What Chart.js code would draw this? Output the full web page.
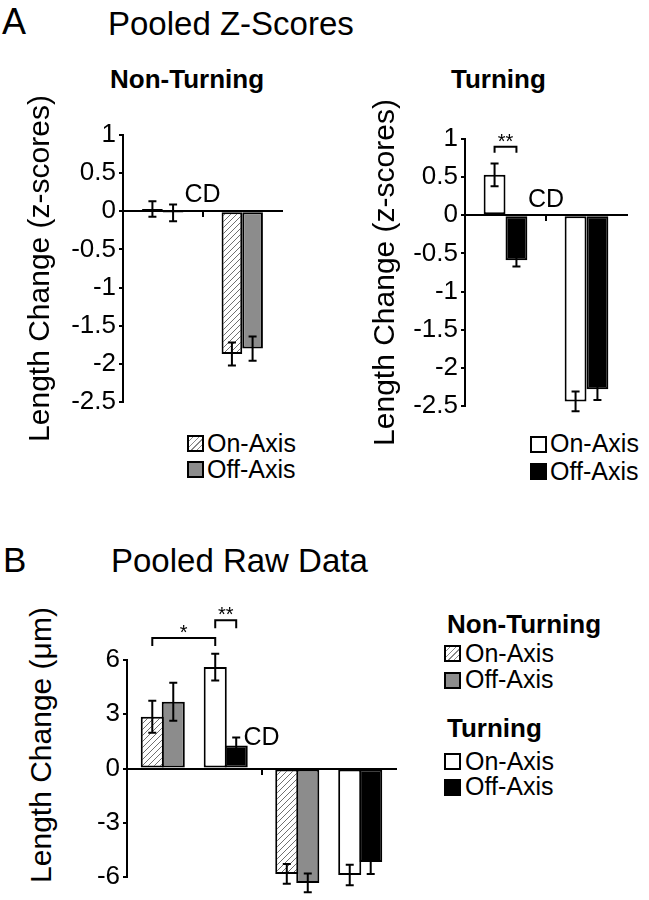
<!DOCTYPE html>
<html>
<head>
<meta charset="utf-8">
<script src="https://cdn.jsdelivr.net/npm/chart.js@4.4.1/dist/chart.umd.min.js"></script>
<style>
  body { margin: 0; width: 649px; height: 900px; position: relative; overflow: hidden; background: #fff;
         font-family: "Liberation Sans", Arial, Helvetica, sans-serif; color: #000; }
  .t { position: absolute; line-height: 1; white-space: nowrap; }
  .b { font-weight: bold; }
  .sw { position: absolute; width: 13px; height: 13px; border: 2px solid #000; }
  .hatch { background: repeating-linear-gradient(-45deg, #fff 0 3px, #888 3px 4px); }
  .grey { background: #8c8c8c; }
  .white { background: #fff; }
  .black { background: #000; }
  canvas { position: absolute; }
</style>
</head>
<body>
<!-- panel A headings -->
<div class="t" style="left:2px;top:4px;font-size:36px">A</div>
<div class="t" style="left:108px;top:7px;font-size:33px">Pooled Z-Scores</div>
<div class="t b" style="left:110px;top:66px;font-size:26px">Non-Turning</div>
<div class="t b" style="left:451px;top:66px;font-size:26px">Turning</div>

<!-- panel A legends -->
<div class="sw hatch" style="left:187px;top:435px"></div>
<div class="t" style="left:207px;top:431px;font-size:25px">On-Axis</div>
<div class="sw grey" style="left:187px;top:461px"></div>
<div class="t" style="left:207px;top:457px;font-size:25px">Off-Axis</div>

<div class="sw white" style="left:530px;top:436px"></div>
<div class="t" style="left:550px;top:431px;font-size:25px">On-Axis</div>
<div class="sw black" style="left:530px;top:463px"></div>
<div class="t" style="left:550px;top:459px;font-size:25px">Off-Axis</div>

<!-- panel B headings -->
<div class="t" style="left:3px;top:542px;font-size:35px">B</div>
<div class="t" style="left:111px;top:544px;font-size:33px">Pooled Raw Data</div>
<div class="t" style="left:41px;top:745px;font-size:30px;transform:translate(-50%,-50%) rotate(-90deg)">Length Change (μm)</div>

<!-- panel B legend -->
<div class="t b" style="left:447px;top:611px;font-size:26px">Non-Turning</div>
<div class="sw hatch" style="left:444px;top:645px"></div>
<div class="t" style="left:465px;top:641px;font-size:25px">On-Axis</div>
<div class="sw grey" style="left:444px;top:672px"></div>
<div class="t" style="left:465px;top:667px;font-size:25px">Off-Axis</div>
<div class="t b" style="left:447px;top:715px;font-size:26px">Turning</div>
<div class="sw white" style="left:444px;top:753px"></div>
<div class="t" style="left:465px;top:749px;font-size:25px">On-Axis</div>
<div class="sw black" style="left:444px;top:779px"></div>
<div class="t" style="left:465px;top:774px;font-size:25px">Off-Axis</div>

<canvas id="zNonTurning" width="320" height="375" style="left:0;top:85px"></canvas>
<canvas id="zTurning" width="319" height="375" style="left:330px;top:85px"></canvas>
<canvas id="rawData" width="420" height="310" style="left:0;top:590px"></canvas>

<script>
// before / after the CD mark on the x axis
const periods = ['Pre-CD', 'Post-CD'];

// Panel A: pooled z-scores
const zTicks = [1, 0.5, 0, -0.5, -1, -1.5, -2, -2.5];
const ntOnZ = [0.03, -1.87];
const ntOnZErr = [0.10, 0.15];
const ntOffZ = [-0.02, -1.80];
const ntOffZErr = [0.11, 0.16];
const tOnZ = [0.53, -2.44];
const tOnZErr = [0.15, 0.13];
const tOffZ = [-0.59, -2.28];
const tOffZErr = [0.08, 0.14];

// Panel B: pooled raw data (um)
const rawTicks = [6, 3, 0, -3, -6];
const ntOnRaw = [2.86, -5.83];
const ntOnRawErr = [0.88, 0.55];
const ntOffRaw = [3.69, -6.33];
const ntOffRawErr = [1.05, 0.52];
const tOnRaw = [5.61, -5.89];
const tOnRawErr = [0.74, 0.57];
const tOffRaw = [1.27, -5.17];
const tOffRawErr = [0.44, 0.66];

Chart.defaults.font.family = '"Liberation Sans", Arial, Helvetica, sans-serif';
Chart.defaults.color = '#000';

// diagonal hatch used for the non-turning on-axis bars
function makeHatch() {
  const c = document.createElement('canvas');
  c.width = 6; c.height = 6;
  const g = c.getContext('2d');
  g.fillStyle = '#fff';
  g.fillRect(0, 0, 6, 6);
  g.strokeStyle = '#707070';
  g.lineWidth = 1;
  g.beginPath();
  g.moveTo(0, 6); g.lineTo(6, 0);
  g.moveTo(-1, 1); g.lineTo(1, -1);
  g.moveTo(5, 7); g.lineTo(7, 5);
  g.stroke();
  return g.createPattern(c, 'repeat');
}
const hatch = makeHatch();

function bars(label, values, errors, fill) {
  return { label: label, data: values, errors: errors, backgroundColor: fill,
           borderColor: '#000', borderWidth: 2, borderSkipped: false, clip: false };
}

// error bars drawn from the y scale
const errorBars = {
  id: 'errorBars',
  afterDatasetsDraw(chart) {
    const ctx = chart.ctx, y = chart.scales.y;
    ctx.save();
    ctx.strokeStyle = '#000';
    ctx.lineWidth = 2;
    chart.data.datasets.forEach((ds, di) => {
      if (!ds.errors) return;
      chart.getDatasetMeta(di).data.forEach((bar, i) => {
        const v = ds.data[i], e = ds.errors[i];
        if (v == null || e == null) return;
        const y1 = y.getPixelForValue(v + e), y2 = y.getPixelForValue(v - e);
        ctx.beginPath();
        ctx.moveTo(bar.x, y1); ctx.lineTo(bar.x, y2);
        ctx.moveTo(bar.x - 4, y1); ctx.lineTo(bar.x + 4, y1);
        ctx.moveTo(bar.x - 4, y2); ctx.lineTo(bar.x + 4, y2);
        ctx.stroke();
      });
    });
    ctx.restore();
  }
};

// significance brackets between two bars
function bracketPlugin(list) {
  return {
    id: 'brackets',
    afterDatasetsDraw(chart) {
      const ctx = chart.ctx, y = chart.scales.y;
      ctx.save();
      ctx.strokeStyle = '#000';
      ctx.fillStyle = '#000';
      ctx.lineWidth = 2;
      ctx.font = '20px "Liberation Sans", Arial, sans-serif';
      ctx.textAlign = 'center';
      ctx.textBaseline = 'alphabetic';
      list.forEach(b => {
        const xa = chart.getDatasetMeta(b.from[0]).data[b.from[1]].x;
        const xb = chart.getDatasetMeta(b.to[0]).data[b.to[1]].x;
        const yt = y.getPixelForValue(b.top), yl = y.getPixelForValue(b.top - b.drop);
        ctx.beginPath();
        ctx.moveTo(xa, yl); ctx.lineTo(xa, yt); ctx.lineTo(xb, yt); ctx.lineTo(xb, yl);
        ctx.stroke();
        ctx.fillText(b.text, (xa + xb) / 2, yt + 1);
      });
      ctx.restore();
    }
  };
}

// "CD" above the tick between the two periods
function cdPlugin(level) {
  return {
    id: 'cdLabel',
    afterDatasetsDraw(chart) {
      const ctx = chart.ctx, x = chart.scales.x, y = chart.scales.y;
      const cx = (x.getPixelForTick(0) + x.getPixelForTick(1)) / 2;
      ctx.save();
      ctx.fillStyle = '#000';
      ctx.font = '25px "Liberation Sans", Arial, sans-serif';
      ctx.textAlign = 'center';
      ctx.textBaseline = 'alphabetic';
      ctx.fillText('CD', cx, y.getPixelForValue(level));
      ctx.restore();
    }
  };
}

function makeChart(id, datasets, o) {
  return new Chart(document.getElementById(id), {
    type: 'bar',
    data: { labels: periods, datasets: datasets },
    plugins: [errorBars, bracketPlugin(o.brackets || []), cdPlugin(o.cd)],
    options: {
      responsive: false,
      animation: false,
      devicePixelRatio: 1,
      events: [],
      layout: { padding: o.pad },
      datasets: { bar: { categoryPercentage: o.cat, barPercentage: o.bar, clip: false } },
      plugins: { legend: { display: false }, tooltip: { enabled: false } },
      scales: {
        x: {
          type: 'category',
          position: { y: 0 },
          offset: true,
          ticks: { display: false },
          grid: {
            offset: true, drawOnChartArea: false, drawTicks: true, tickLength: 5, lineWidth: 2,
            color: c => c.index === 1 ? '#000' : 'rgba(0,0,0,0)'
          },
          border: { color: '#000', width: 2 },
          afterFit: s => { s.height = 0; }
        },
        y: {
          min: o.ticks[o.ticks.length - 1],
          max: o.ticks[0],
          afterBuildTicks: s => { s.ticks = o.ticks.map(v => ({ value: v })); },
          ticks: { color: '#000', font: { size: 26 }, padding: 3, callback: v => String(v) },
          grid: { drawOnChartArea: false, tickLength: 4, lineWidth: 2, color: '#000' },
          border: { color: '#000', width: 2 },
          title: o.title ? { display: true, text: o.title, color: '#000', font: { size: 30 }, padding: { top: o.titlePad } } : { display: false },
          afterFit: s => { s.width = o.yWidth; }
        }
      }
    }
  });
}

makeChart('zNonTurning', [
  bars('On-Axis', ntOnZ, ntOnZErr, hatch),
  bars('Off-Axis', ntOffZ, ntOffZErr, '#8c8c8c')
], { ticks: zTicks, pad: { left: 0, top: 50, right: 38, bottom: 58 }, yWidth: 123,
     title: 'Length Change (z-scores)', titlePad: 23, cat: 0.52, bar: 1, cd: 0.12 });

makeChart('zTurning', [
  bars('On-Axis', tOnZ, tOnZErr, '#fff'),
  bars('Off-Axis', tOffZ, tOffZErr, '#000')
], { ticks: zTicks, pad: { left: 0, top: 54, right: 22, bottom: 54 }, yWidth: 135,
     title: 'Length Change (z-scores)', titlePad: 38, cat: 0.54, bar: 1, cd: 0.11,
     brackets: [{ from: [0, 0], to: [1, 0], top: 0.90, drop: 0.08, text: '**' }] });

makeChart('rawData', [
  bars('Non-Turning On-Axis', ntOnRaw, ntOnRawErr, hatch),
  bars('Non-Turning Off-Axis', ntOffRaw, ntOffRawErr, '#8c8c8c'),
  { label: '', data: [null, null] },
  bars('Turning On-Axis', tOnRaw, tOnRawErr, '#fff'),
  bars('Turning Off-Axis', tOffRaw, tOffRawErr, '#000')
], { ticks: rawTicks, pad: { left: 0, top: 70, right: 24, bottom: 23 }, yWidth: 127,
     cat: 0.78, bar: 1.1, cd: 1.32,
     brackets: [
       { from: [0, 0], to: [3, 0], top: 7.21, drop: 0.44, text: '*' },
       { from: [3, 0], to: [4, 0], top: 8.2, drop: 0.44, text: '**' }
     ] });
</script>
</body>
</html>
